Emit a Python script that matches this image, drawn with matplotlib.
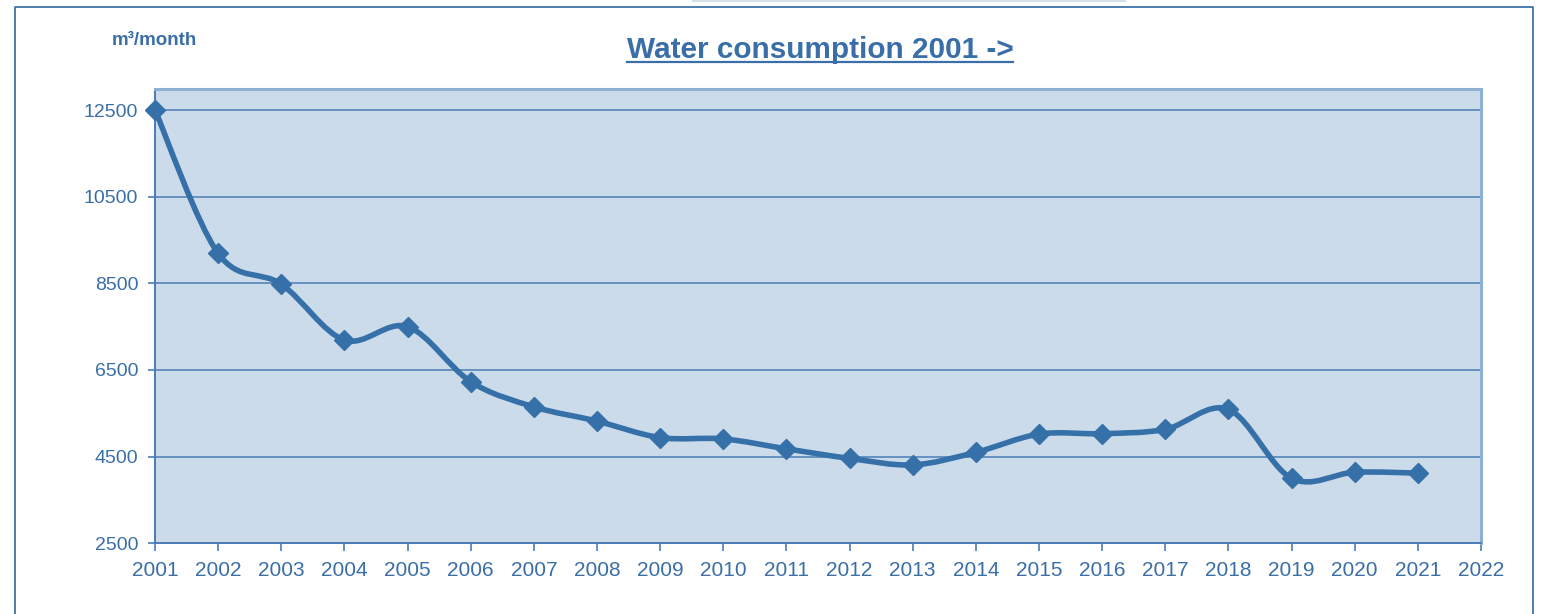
import numpy as np
import matplotlib.pyplot as plt
from matplotlib.path import Path
from matplotlib.patches import PathPatch
from matplotlib.lines import Line2D

plt.rcParams["font.family"] = ["Liberation Sans", "DejaVu Sans"]

years = [2001, 2002, 2003, 2004, 2005, 2006, 2007, 2008, 2009, 2010, 2011,
         2012, 2013, 2014, 2015, 2016, 2017, 2018, 2019, 2020, 2021]
consumption = [12500, 9190, 8480, 7190, 7500, 6230, 5650, 5320, 4940, 4910, 4680,
               4460, 4310, 4600, 5020, 5030, 5130, 5590, 4000, 4140, 4120]
y_ticks = [2500, 4500, 6500, 8500, 10500, 12500]
x_ticks = list(range(2001, 2023))

line_col = "#3570a8"
text_col = "#3a6ea8"
axis_col = "#4a7db5"
bg_col = "#cbdbea"

fig = plt.figure(figsize=(15.42, 6.14), dpi=100)
ax = fig.add_axes([155 / 1542, 1 - 543.3 / 614, 1326 / 1542, 454.3 / 614])
ax.set_facecolor(bg_col)

# smoothed line (excel style bezier through the points)
x = np.array(years, dtype=float)
y = np.array(consumption, dtype=float)
verts = [(x[0], y[0])]
codes = [Path.MOVETO]
n = len(x)
for i in range(n - 1):
    p0 = np.array([x[max(i - 1, 0)], y[max(i - 1, 0)]])
    p1 = np.array([x[i], y[i]])
    p2 = np.array([x[i + 1], y[i + 1]])
    p3 = np.array([x[min(i + 2, n - 1)], y[min(i + 2, n - 1)]])
    c1 = p1 + (p2 - p0) / 6
    c2 = p2 - (p3 - p1) / 6
    verts += [tuple(c1), tuple(c2), tuple(p2)]
    codes += [Path.CURVE4] * 3
ax.add_patch(PathPatch(Path(verts, codes), fill=False, edgecolor=line_col,
                       lw=4.0, capstyle="round", joinstyle="round", zorder=3))
ax.plot(years, consumption, ls="none", marker="D", ms=10.5, color=line_col,
        mec=line_col, mew=1, zorder=4, clip_on=False)

ax.set_xlim(2001, 2022)
ax.set_ylim(2500, 12985)
ax.set_yticks(y_ticks)
ax.set_xticks(x_ticks)
ax.set_xticklabels([str(t) for t in x_ticks])
ax.grid(axis="y", color=axis_col, lw=1.1)
ax.set_axisbelow(True)

for s in ["left", "bottom"]:
    ax.spines[s].set_color(axis_col)
    ax.spines[s].set_linewidth(1.4)
for s in ["top", "right"]:
    ax.spines[s].set_color("#8eb0d2")
    ax.spines[s].set_linewidth(2.2)

ax.tick_params(axis="y", colors=axis_col, length=5, width=1.2, pad=7,
               labelsize=14, labelcolor=text_col)
ax.tick_params(axis="x", colors=axis_col, length=6, width=1.2, pad=7,
               labelsize=15, labelcolor=text_col)

fig.text(112 / 1542, 1 - 45 / 614, "m³/month", fontsize=13.5, fontweight="bold",
         color=text_col, ha="left", va="baseline")

title = fig.text(820 / 1542, 1 - 57.7 / 614, "Water consumption 2001 ->",
                 fontsize=21.4, fontweight="bold", color=text_col,
                 ha="center", va="baseline")

# underline the title
fig.canvas.draw()
bb = title.get_window_extent().transformed(fig.transFigure.inverted())
uy = 1 - 62.3 / 614
fig.add_artist(Line2D([bb.x0, bb.x1], [uy, uy], transform=fig.transFigure,
                      color=text_col, lw=1.6))

# outer frame
fl, fr, ft = 15 / 1542, 1533 / 1542, 1 - 7 / 614
fig.add_artist(Line2D([fl, fl, fr, fr], [0, ft, ft, 0], transform=fig.transFigure,
                      color="#3f72a8", lw=1.3))
fig.add_artist(Line2D([693 / 1542, 1125 / 1542], [1 - 0.8 / 614, 1 - 0.8 / 614],
                      transform=fig.transFigure, color="#d3e0ee", lw=1.5))

fig.savefig("out.png", dpi=100)
